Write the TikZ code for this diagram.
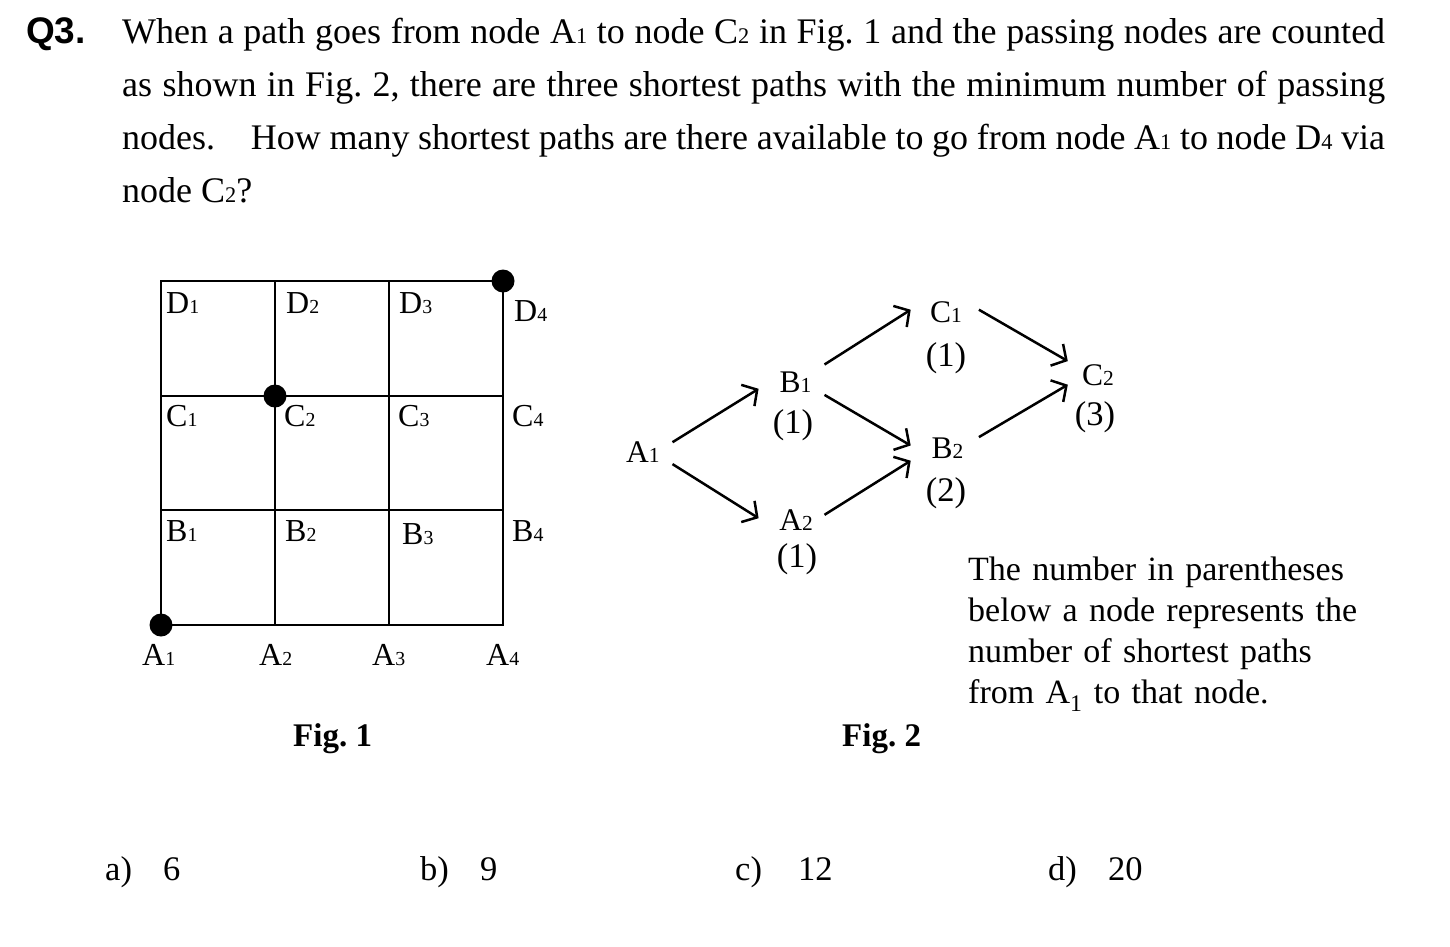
\documentclass[tikz,border=0pt]{standalone}
\usepackage{fontspec}
\setmainfont{Liberation Serif}
\newfontfamily\qfont{Liberation Sans}
\usetikzlibrary{arrows.meta}
\newcommand{\lo}[1]{\scalebox{0.62}{#1}}
\newcommand{\lof}[1]{\scalebox{0.68}{#1}}
\frenchspacing
\begin{document}
\begin{tikzpicture}[x=1pt,y=-1pt,
  gridline/.style={line width=2.6pt},
  dotnode/.style={circle, fill=black, inner sep=0pt, minimum size=23pt},
  glabel/.style={anchor=base west, inner sep=0pt, font=\fontsize{32}{32}\selectfont},
  flabel/.style={anchor=base, inner sep=0pt, font=\fontsize{31.5}{31.5}\selectfont},
  cnt/.style={anchor=base, inner sep=0pt, font=\fontsize{34.5}{34.5}\selectfont},
  arr/.style={line width=2.5pt, -{Straight Barb[length=11pt,width=25pt]}},
  txt/.style={anchor=base west, inner sep=0pt, font=\fontsize{34.5}{34.5}\selectfont},
  figlabel/.style={anchor=base west, inner sep=0pt, font=\fontsize{33}{33}\selectfont\bfseries},
]
\useasboundingbox[fill=white] (0,0) rectangle (1450,946);

% ---- question text ----
\node[anchor=base west, inner sep=0pt, font=\qfont\bfseries\fontsize{37}{37}\selectfont] (q) at (26,43) {Q3.};
\node[anchor=base west, inner sep=0pt, text width=1263pt, align=justify,
      font=\fontsize{36}{53}\selectfont] (question) at (122,43)
 {When a path goes from node A\lo{1} to node C\lo{2} in Fig. 1 and the passing nodes are counted\linebreak
  as shown in Fig. 2, there are three shortest paths with the minimum number of passing\linebreak
  nodes.\hspace{0.75em} How many shortest paths are there available to go from node A\lo{1} to node D\lo{4} via\linebreak
  node C\lo{2}?};

% ---- Fig. 1 grid ----
\draw[gridline] (161,281) rectangle (503,625);
\draw[gridline] (275,281) -- (275,625);
\draw[gridline] (389,281) -- (389,625);
\draw[gridline] (161,396) -- (503,396);
\draw[gridline] (161,510) -- (503,510);

\node[dotnode] (dA1) at (161,625) {};
\node[dotnode] (dC2) at (275,396) {};
\node[dotnode] (dD4) at (503,281) {};

\node[glabel] (gD1) at (166,313) {D\lo{1}};
\node[glabel] (gD2) at (286,313) {D\lo{2}};
\node[glabel] (gD3) at (399,313) {D\lo{3}};
\node[glabel] (gD4) at (514,321) {D\lo{4}};
\node[glabel] (gC1) at (166,426) {C\lo{1}};
\node[glabel] (gC2) at (284,426) {C\lo{2}};
\node[glabel] (gC3) at (398,426) {C\lo{3}};
\node[glabel] (gC4) at (512,426) {C\lo{4}};
\node[glabel] (gB1) at (166,541) {B\lo{1}};
\node[glabel] (gB2) at (285,541) {B\lo{2}};
\node[glabel] (gB3) at (402,544) {B\lo{3}};
\node[glabel] (gB4) at (512,541) {B\lo{4}};
\node[glabel] (gA1) at (142,665) {A\lo{1}};
\node[glabel] (gA2) at (259,665) {A\lo{2}};
\node[glabel] (gA3) at (372,665) {A\lo{3}};
\node[glabel] (gA4) at (486,665) {A\lo{4}};

\node[figlabel] (fig1) at (293,746) {Fig. 1};

% ---- Fig. 2 ----
\node[flabel, anchor=base west] (nA1) at (626,462) {A\lof{1}};
\node[flabel] (nB1) at (795.5,392.5) {B\lof{1}};
\node[cnt] (cB1) at (793,433) {(1)};
\node[flabel] (nA2) at (796,530) {A\lof{2}};
\node[cnt] (cA2) at (797,567) {(1)};
\node[flabel] (nC1) at (946,322) {C\lof{1}};
\node[cnt] (cC1) at (946,366) {(1)};
\node[flabel] (nB2) at (947.5,458) {B\lof{2}};
\node[cnt] (cB2) at (946,501) {(2)};
\node[flabel] (nC2) at (1098,385) {C\lof{2}};
\node[cnt] (cC2) at (1095,425) {(3)};

\coordinate (a1up)  at (672.5,442.2);
\coordinate (a1dn)  at (672.5,464.1);
\coordinate (b1in)  at (758.6,388.8);
\coordinate (a2in)  at (758.6,518.2);
\coordinate (b1up)  at (824.5,364.5);
\coordinate (b1dn)  at (824.5,394.9);
\coordinate (a2out) at (824.5,514.8);
\coordinate (c1in)  at (910.7,309.7);
\coordinate (b2inU) at (910.7,445.5);
\coordinate (b2inD) at (910.7,460.7);
\coordinate (c1out) at (978.9,309.7);
\coordinate (b2out) at (978.9,437.1);
\coordinate (c2inU) at (1067.8,361.1);
\coordinate (c2inD) at (1067.8,384.7);

\draw[arr] (a1up) -- (b1in);
\draw[arr] (a1dn) -- (a2in);
\draw[arr] (b1up) -- (c1in);
\draw[arr] (b1dn) -- (b2inU);
\draw[arr] (a2out) -- (b2inD);
\draw[arr] (c1out) -- (c2inU);
\draw[arr] (b2out) -- (c2inD);

\node[anchor=base west, inner sep=0pt, text width=440pt, align=left, font=\fontsize{34}{41.3}\selectfont] (note) at (968,580)
 {The number in parentheses\\below a node represents the\\number of shortest paths\\from A\textsubscript{1} to that node.};

\node[figlabel] (fig2) at (842,746) {Fig. 2};

% ---- answers ----
\node[txt] (ansa) at (105,880) {a)};
\node[txt] (vala) at (163,880) {6};
\node[txt] (ansb) at (420,880) {b)};
\node[txt] (valb) at (480,880) {9};
\node[txt] (ansc) at (735,880) {c)};
\node[txt] (valc) at (798,880) {12};
\node[txt] (ansd) at (1048,880) {d)};
\node[txt] (vald) at (1108,880) {20};
\end{tikzpicture}
\end{document}
